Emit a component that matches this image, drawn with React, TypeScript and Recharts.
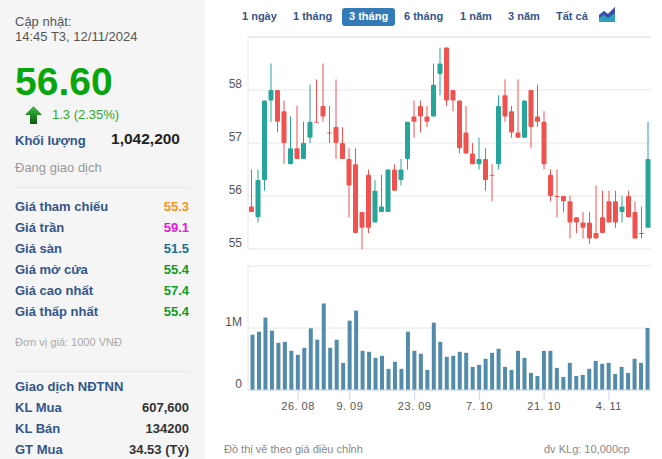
import { Bar, BarChart, CartesianGrid, ReferenceLine, XAxis, YAxis } from 'recharts';

const opens = [55.8, 55.6, 56.3, 57.8, 58.0, 57.6, 56.6, 56.9, 56.7, 57.1, 57.4, 57.7, 57.2, 57.3, 57.0, 56.7, 56.6, 55.7, 56.4, 55.5, 55.7, 55.7, 56.5, 56.3, 56.7, 57.5, 57.7, 57.5, 57.5, 58.3, 58.8,
  58.0, 57.8, 57.2, 56.8, 56.6, 56.7, 56.4, 56.6, 57.9, 57.6, 57.2, 57.1, 58.0, 57.5, 57.4, 56.4, 56.0, 56.0, 55.9, 55.6, 55.5, 55.5, 55.3, 55.6, 55.9, 55.9, 55.7, 56.0, 55.7, 55.3, 55.4];
const closes = [55.7, 56.3, 57.8, 58.0, 57.4, 57.0, 56.9, 56.7, 57.0, 57.4, 57.4, 57.5, 57.2, 57.0, 56.7, 56.2, 55.3, 55.4, 55.4, 56.1, 55.8, 56.5, 56.1, 56.5, 57.4, 57.4, 57.5, 57.4, 58.1, 58.5, 57.8,
  57.8, 56.9, 56.8, 56.6, 56.7, 56.3, 56.4, 57.7, 57.5, 57.2, 57.1, 57.8, 57.3, 57.4, 56.6, 56.0, 56.0, 55.9, 55.5, 55.5, 55.4, 55.2, 55.2, 55.3, 55.5, 55.5, 55.8, 55.6, 55.2, 55.3, 56.7];
const highs = [56.5, 56.5, 57.8, 58.5, 58.0, 57.8, 57.5, 57.7, 57.4, 58.1, 58.2, 58.5, 57.7, 58.2, 57.3, 56.9, 56.9, 55.7, 56.5, 56.3, 56.4, 56.5, 56.6, 56.7, 57.4, 57.8, 57.8, 57.7, 58.5, 58.8, 58.8,
  58.0, 57.8, 57.7, 57.0, 57.1, 56.9, 56.6, 57.9, 58.2, 57.7, 58.2, 57.8, 58.0, 58.1, 57.6, 56.5, 56.5, 56.0, 56.0, 55.6, 55.7, 55.7, 56.2, 56.1, 56.1, 56.1, 56.0, 56.1, 55.9, 55.8, 57.4];
const lows = [55.7, 55.5, 56.1, 57.4, 57.2, 56.6, 56.6, 56.7, 56.7, 57.0, 57.4, 57.4, 57.0, 56.7, 56.7, 55.6, 55.3, 55.0, 55.3, 55.5, 55.7, 55.7, 56.1, 56.2, 56.5, 57.1, 57.2, 57.3, 57.5, 57.9, 57.7,
  57.6, 56.8, 56.8, 56.6, 56.5, 56.1, 55.9, 56.5, 57.4, 57.1, 57.1, 57.1, 56.9, 57.3, 56.5, 55.9, 55.6, 55.7, 55.2, 55.3, 55.2, 55.1, 55.2, 55.3, 55.5, 55.4, 55.5, 55.6, 55.2, 55.2, 55.4];
const volumes = [0.892, 0.94, 1.168, 0.957, 0.762, 0.778, 0.632, 0.568, 0.681, 0.995, 0.811, 1.395, 0.681, 0.811, 0.438, 1.119, 1.281, 0.632, 0.616, 0.519, 0.551, 0.341, 0.454, 0.341, 0.94, 0.632, 0.584, 0.324, 1.086, 0.778,
  0.535, 0.551, 0.616, 0.6, 0.373, 0.405, 0.503, 0.6, 0.665, 0.373, 0.324, 0.632, 0.519, 0.276, 0.227, 0.632, 0.632, 0.357, 0.211, 0.438, 0.227, 0.243, 0.341, 0.47, 0.422, 0.438, 0.259, 0.373, 0.276, 0.503, 0.438, 1.0];

const priceTicks = [55, 56, 57, 58];
const volumeTicks = [0, 1, 2];
const dateTickIndexes = [7, 15, 25, 35, 45, 55];
const dateTickLabels = ['26. 08', '9. 09', '23. 09', '7. 10', '21. 10', '4. 11'];

const tabs = ['1 ngày', '1 tháng', '3 tháng', '6 tháng', '1 năm', '3 năm', 'Tất cả'];
const tabLefts = [242, 293, 349, 404, 460, 508, 556];

const priceRows = [
  ['Giá tham chiếu', '55.3', '#f7931e'],
  ['Giá trần', '59.1', '#e815d8'],
  ['Giá sàn', '51.5', '#1d6f8c'],
  ['Giá mở cửa', '55.4', '#0f9d1c'],
  ['Giá cao nhất', '57.4', '#0f9d1c'],
  ['Giá thấp nhất', '55.4', '#0f9d1c'],
];
const foreignRows = [
  ['KL Mua', '607,600'],
  ['KL Bán', '134200'],
  ['GT Mua', '34.53 (Tỷ)'],
];

const candles = opens.map((open, i) => ({
  idx: i,
  open,
  close: closes[i],
  high: highs[i],
  low: lows[i],
  range: [lows[i], highs[i]],
}));
const volumeData = volumes.map((volume, i) => ({ idx: i, volume }));

const UP = '#26a69a';
const DOWN = '#ef5350';
const NAVY = '#34558b';
const GRID = '#e6e6e6';
const AXIS = '#ccd6eb';
const FONT = '"Liberation Sans", Arial, sans-serif';

// wick spans low..high, so the body can be placed from the bar's own pixels
function Candle(props: any) {
  const { x, y, width, height, payload } = props;
  const perUnit = height / (payload.high - payload.low);
  const top = y + (payload.high - Math.max(payload.open, payload.close)) * perUnit;
  const bottom = y + (payload.high - Math.min(payload.open, payload.close)) * perUnit;
  const cx = x + width / 2;
  const color = payload.close > payload.open ? UP : DOWN;
  return (
    <g>
      <line x1={cx} x2={cx} y1={y} y2={y + height} stroke={color} strokeWidth={1} />
      <rect x={cx - 2.5} y={top} width={5} height={Math.max(bottom - top, 1)} rx={1} fill={color} />
    </g>
  );
}

function YLabel(props: any) {
  const { x, y, payload, format } = props;
  return (
    <text x={x + 4} y={y - 2} textAnchor="end" fontSize={12} fontFamily={FONT} fill="#555">
      {format ? format(payload.value) : payload.value}
    </text>
  );
}

function Text({ x, y, right, children, style }: any) {
  const pos = right !== undefined ? { right: 662 - right } : { left: x };
  return (
    <div style={{ position: 'absolute', top: y, whiteSpace: 'nowrap', lineHeight: '16px', ...pos, ...style }}>
      {children}
    </div>
  );
}

function SidePanel() {
  return (
    <>
      <div style={{ position: 'absolute', left: 0, top: 0, width: 205, height: 459, background: '#f5f5f5' }} />
      <Text x={15} y={14} style={{ fontSize: 13, color: '#555' }}>Cập nhật:</Text>
      <Text x={15} y={29} style={{ fontSize: 13, color: '#555' }}>14:45 T3, 12/11/2024</Text>
      <Text x={15} y={62} style={{ fontSize: 39, lineHeight: '40px', fontWeight: 700, color: '#09a50d' }}>56.60</Text>
      <svg style={{ position: 'absolute', left: 25, top: 106 }} width={17} height={18}>
        <defs>
          <linearGradient id="arrowFill" x1="0" y1="0" x2="0" y2="1">
            <stop offset="0" stopColor="#3fbf3f" />
            <stop offset="1" stopColor="#0a5a0e" />
          </linearGradient>
        </defs>
        <path d="M8.5 0 L17 9 L12 9 L12 18 L5 18 L5 9 L0 9 Z" fill="url(#arrowFill)" />
      </svg>
      <Text x={52} y={107} style={{ fontSize: 13, color: '#2ea82e' }}>1.3 (2.35%)</Text>
      <Text x={15} y={133} style={{ fontSize: 13, fontWeight: 700, color: NAVY }}>Khối lượng</Text>
      <Text right={180} y={131} style={{ fontSize: 15.5, fontWeight: 700, color: '#222' }}>1,042,200</Text>
      <Text x={15} y={160} style={{ fontSize: 13, color: '#999' }}>Đang giao dịch</Text>
      <div style={{ position: 'absolute', left: 15, top: 187, width: 175, height: 1, background: '#e8e8e8' }} />
      {priceRows.map(([label, value, color], i) => (
        <div key={label}>
          <Text x={15} y={199 + i * 21} style={{ fontSize: 13, fontWeight: 700, color: NAVY }}>{label}</Text>
          <Text right={189} y={199 + i * 21} style={{ fontSize: 13, fontWeight: 700, color }}>{value}</Text>
        </div>
      ))}
      <Text x={15} y={334} style={{ fontSize: 11, color: '#aaa' }}>Đơn vị giá: 1000 VNĐ</Text>
      <div style={{ position: 'absolute', left: 15, top: 371, width: 175, height: 1, background: '#e8e8e8' }} />
      <Text x={15} y={379} style={{ fontSize: 13, fontWeight: 700, color: NAVY }}>Giao dịch NĐTNN</Text>
      {foreignRows.map(([label, value], i) => (
        <div key={label}>
          <Text x={15} y={400 + i * 21} style={{ fontSize: 13, fontWeight: 700, color: NAVY }}>{label}</Text>
          <Text right={189} y={400 + i * 21} style={{ fontSize: 13, fontWeight: 700, color: '#333' }}>{value}</Text>
        </div>
      ))}
    </>
  );
}

function RangeTabs() {
  return (
    <>
      <div style={{ position: 'absolute', left: 342, top: 8, width: 53, height: 18, borderRadius: 3, background: '#337ab7' }} />
      {tabs.map((tab, i) => (
        <Text key={tab} x={tabLefts[i]} y={8} style={{ fontSize: 11, fontWeight: 700, color: i === 2 ? '#fff' : NAVY }}>
          {tab}
        </Text>
      ))}
      <svg style={{ position: 'absolute', left: 599, top: 7 }} width={17} height={15}>
        <path d="M0 15 V8 L5 4 L9 7 L16 0 V15 Z" fill="#2f9fbf" />
        <path d="M0 8 L5 4 L9 7 L16 0 V6 L9 11 L5 8 L0 11 Z" fill="#3c4fa8" />
      </svg>
    </>
  );
}

export default function App() {
  return (
    <div style={{ position: 'absolute', left: 0, top: 0, width: 662, height: 459, overflow: 'hidden', background: '#fff', fontFamily: FONT }}>
      <SidePanel />
      <RangeTabs />

      <div style={{ position: 'absolute', left: 210, top: 30 }}>
        <BarChart width={452} height={225} data={candles} margin={{ top: 7, right: 11, bottom: 6, left: 0 }} barCategoryGap={0}>
          <CartesianGrid vertical={false} stroke={GRID} strokeWidth={1} />
          <XAxis dataKey="idx" hide />
          <YAxis
            domain={[55, 59]}
            ticks={priceTicks}
            interval={0}
            width={38}
            axisLine={{ stroke: GRID }}
            tickLine={false}
            tickMargin={4}
            tick={<YLabel />}
          />
          <ReferenceLine y={59} stroke={GRID} />
          <Bar dataKey="range" shape={<Candle />} isAnimationActive={false} />
        </BarChart>
      </div>

      <div style={{ position: 'absolute', left: 210, top: 260 }}>
        <BarChart width={452} height={160} data={volumeData} margin={{ top: 6, right: 11, bottom: 0, left: 0 }} barCategoryGap={0} barSize={4}>
          <CartesianGrid vertical={false} stroke={GRID} strokeWidth={1} />
          <XAxis
            dataKey="idx"
            ticks={dateTickIndexes}
            interval={0}
            height={30}
            padding={{ left: 1.5 }}
            tickFormatter={(v: number) => dateTickLabels[dateTickIndexes.indexOf(v)]}
            axisLine={{ stroke: AXIS }}
            tickLine={{ stroke: AXIS }}
            tickSize={10}
            tick={{ fontSize: 11, fontFamily: FONT, fill: '#555', letterSpacing: 0.5 }}
          />
          <YAxis
            domain={[0, 2]}
            ticks={volumeTicks}
            interval={0}
            width={38}
            axisLine={{ stroke: GRID }}
            tickLine={false}
            tickMargin={4}
            tick={<YLabel format={(v: number) => (v === 0 ? '0' : v === 1 ? '1M' : '')} />}
          />
          <Bar dataKey="volume" fill="#538cab" isAnimationActive={false} />
        </BarChart>
      </div>

      <Text x={224} y={441} style={{ fontSize: 11, color: '#888' }}>Đồ thị vẽ theo giá điều chỉnh</Text>
      <Text x={544} y={441} style={{ fontSize: 11, color: '#888' }}>đv KLg: 10,000cp</Text>
    </div>
  );
}
